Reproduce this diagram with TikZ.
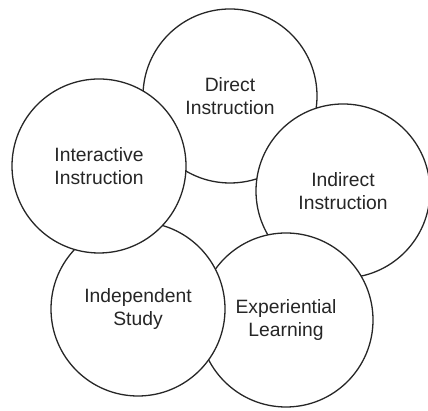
\documentclass[tikz,border=0pt]{standalone}
\usepackage{fontspec}
\setmainfont{Liberation Sans}
\begin{document}
\begin{tikzpicture}[x=1pt,y=1pt,
  blob/.style={circle,draw=black!85,line width=1.3pt,fill=white,minimum size=174pt,inner sep=0pt,align=center,
    font=\fontsize{19.3}{23}\selectfont,text=black!85}]
\useasboundingbox (0,0) rectangle (428,411);
\node[blob] (direct) at (230,315) {Direct\\Instruction};
\node[blob] (indirect) at (343,220) {Indirect\\Instruction};
\node[blob] (exper) at (286,91) {Experiential\\Learning};
\node[blob] (indep) at (138,102) {Independent\\Study};
\node[blob] (inter) at (99,245) {Interactive\\Instruction};
\end{tikzpicture}
\end{document}
